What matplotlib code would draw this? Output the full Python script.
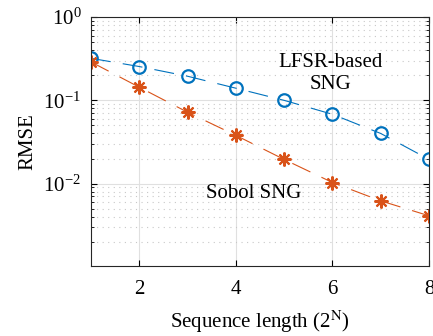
import matplotlib.pyplot as plt

N = [1, 2, 3, 4, 5, 6, 7, 8]
lfsr_rmse = [0.32, 0.255, 0.195, 0.14, 0.1, 0.068, 0.04, 0.0195]
sobol_rmse = [0.29, 0.144, 0.072, 0.038, 0.0195, 0.0103, 0.0062, 0.0041]

plt.rcParams['font.family'] = ['Liberation Serif', 'DejaVu Serif']
plt.rcParams['mathtext.fontset'] = 'stix'

fig = plt.figure(figsize=(4.33, 3.36), dpi=100)
ax = fig.add_axes([0.21, 0.208, 0.781, 0.741])

ax.semilogy(N, lfsr_rmse, linestyle=(0, (18, 11)), color='#0072BD', linewidth=0.8,
            marker='o', markersize=9, markerfacecolor='none', markeredgewidth=1.6)
ax.semilogy(N, sobol_rmse, linestyle=(0, (18, 11)), color='#D95319', linewidth=0.8,
            marker=(8, 2, 0), markersize=10, markeredgewidth=1.5)

ax.set_xlim(1, 8)
ax.set_ylim(1.02e-3, 1)
ax.set_xticks([2, 4, 6, 8])
ax.set_yticks([1e-2, 1e-1, 1])

ax.grid(True, which='major', color='#e0e0e0', linewidth=0.8)
ax.grid(True, which='minor', axis='y', color='#c8c8c8', linestyle=(0, (1, 4)), linewidth=0.8)
ax.tick_params(which='both', direction='in', labelsize=15, top=True, right=True)
ax.tick_params(which='minor', length=2)
ax.tick_params(which='major', length=4)
ax.tick_params(axis='x', which='major', pad=10)
ax.tick_params(axis='y', which='major', pad=7)
for s in ax.spines.values():
    s.set_color('#262626')

ax.set_xlabel('Sequence length (2$^\\mathrm{N}$)', fontsize=15, labelpad=7)
ax.set_ylabel('RMSE', fontsize=15, labelpad=4)

ax.text(5.95, 0.21, 'LFSR-based\nSNG', fontsize=15, ha='center', va='center', linespacing=1.15)
ax.text(4.36, 0.0076, 'Sobol SNG', fontsize=15, ha='center', va='center')

plt.savefig('out.png')
